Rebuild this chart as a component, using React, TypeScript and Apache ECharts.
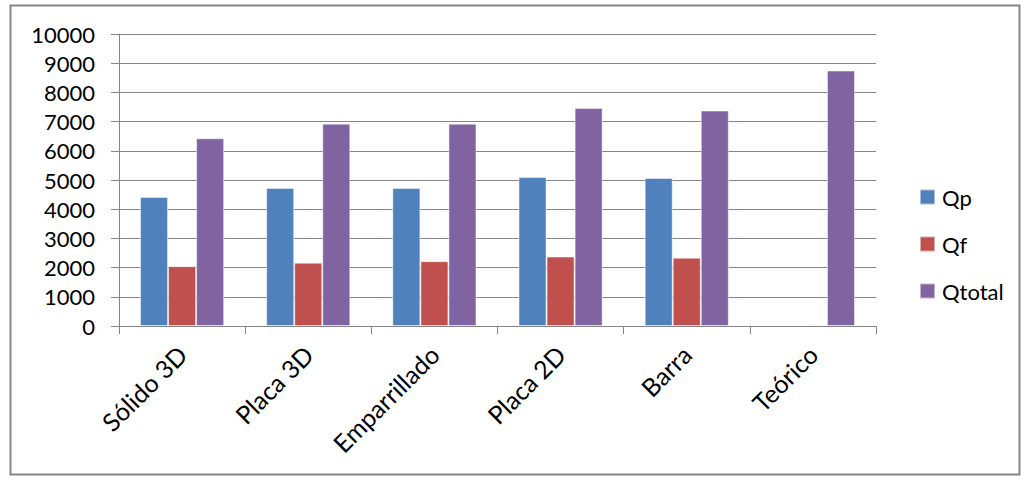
import React, { useEffect, useRef } from "react";
import * as echarts from "echarts";

const categories = ["Sólido 3D", "Placa 3D", "Emparrillado", "Placa 2D", "Barra", "Teórico"];
const qp = [4420, 4730, 4730, 5100, 5070, null];
const qf = [2050, 2170, 2220, 2380, 2340, null];
const qtotal = [6430, 6930, 6930, 7470, 7380, 8750];
const yTicks = { min: 0, max: 10000, interval: 1000 };

const FONT = "Lato, 'Liberation Sans', Arial, sans-serif";

export default function App() {
  const ref = useRef<HTMLDivElement>(null);
  useEffect(() => {
    document.body.style.margin = "0";
    const chart = echarts.init(ref.current!, undefined, { renderer: "svg" });
    const bar = (name: string, data: any[], color: string) => ({
      name,
      type: "bar",
      data,
      barGap: "0%",
      barCategoryGap: "33.3%",
      itemStyle: { color, borderColor: "rgba(255,255,255,0.5)", borderWidth: 1 },
    });
    chart.setOption({
      animation: false,
      backgroundColor: "#ffffff",
      textStyle: { fontFamily: FONT },
      graphic: [
        {
          type: "rect",
          shape: { x: 10.5, y: 5.5, width: 1009, height: 469 },
          style: { fill: "none", stroke: "#868686", lineWidth: 2 },
          silent: true,
        },
      ],
      grid: { left: 119, right: 155, top: 34, bottom: 157, containLabel: false },
      legend: {
        orient: "vertical",
        left: 914,
        top: 181,
        itemWidth: 15,
        itemHeight: 15,
        itemGap: 25,
        icon: "rect",
        textStyle: { fontSize: 22, color: "#000", fontFamily: FONT, padding: [0, 0, 0, 2] },
        data: ["Qp", "Qf", "Qtotal"],
      },
      xAxis: {
        type: "category",
        data: categories,
        axisLine: { lineStyle: { color: "#868686", width: 1 } },
        axisTick: { show: true, length: 8, lineStyle: { color: "#868686" } },
        axisLabel: { rotate: 45, fontSize: 25, color: "#000", margin: 24, fontFamily: FONT, interval: 0 },
      },
      yAxis: {
        type: "value",
        min: yTicks.min,
        max: yTicks.max,
        interval: yTicks.interval,
        axisLine: { show: true, lineStyle: { color: "#868686" } },
        axisTick: { show: true, inside: false, length: 8, lineStyle: { color: "#868686" } },
        splitLine: { show: true, lineStyle: { color: "#868686", width: 1 } },
        axisLabel: { fontSize: 22, color: "#000", margin: 24, fontFamily: FONT, formatter: (v: number) => String(v) },
      },
      series: [
        bar("Qp", qp, "#4F81BD"),
        bar("Qf", qf, "#C0504D"),
        bar("Qtotal", qtotal, "#8064A2"),
      ],
    });
    return () => chart.dispose();
  }, []);
  return <div ref={ref} style={{ width: 1031, height: 483 }} />;
}
